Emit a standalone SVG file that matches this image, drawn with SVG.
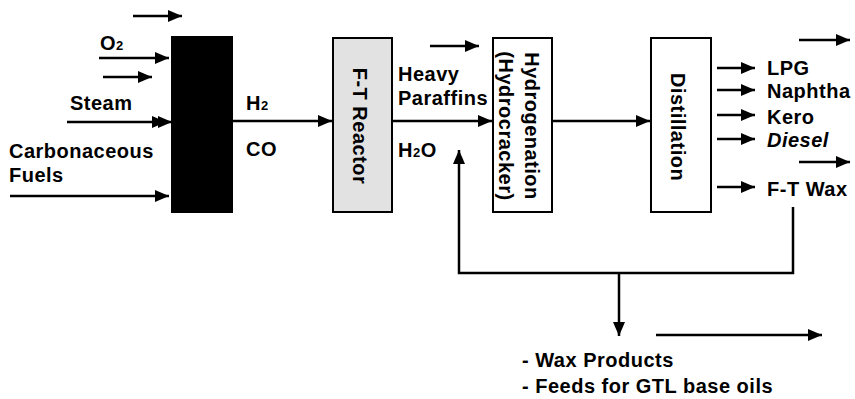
<svg xmlns="http://www.w3.org/2000/svg" width="855" height="399" viewBox="0 0 855 399">
<defs>
<marker id="ah" markerUnits="userSpaceOnUse" markerWidth="16" markerHeight="14" refX="14" refY="7" orient="auto">
<path d="M0,1 L14,7 L0,13 Z" fill="#000"/>
</marker>
<marker id="ah2" markerUnits="userSpaceOnUse" markerWidth="22" markerHeight="14" refX="20" refY="7" orient="auto">
<path d="M0,1 L14,7 L0,13 Z M6,1 L20,7 L6,13 Z" fill="#000"/>
</marker>
</defs>
<style>
.t{font-family:"Liberation Sans",Arial,sans-serif;font-weight:bold;font-size:20px;letter-spacing:0.5px;fill:#000}
.s{font-size:13px}
.c{fill:none;stroke:#000;stroke-width:2.5}
.a{marker-end:url(#ah)}
.box{stroke:#000;stroke-width:2}
</style>
<g id="connectors">
<line class="c a" x1="133" y1="16" x2="182" y2="16"/>
<line class="c a" x1="99" y1="58" x2="169" y2="58"/>
<line class="c a" x1="103" y1="77" x2="152" y2="77"/>
<line class="c" x1="67" y1="122" x2="172" y2="122" marker-end="url(#ah2)"/>
<line class="c a" x1="10" y1="196" x2="169" y2="196"/>
<line class="c a" x1="232" y1="121" x2="332" y2="121"/>
<line class="c a" x1="430" y1="46" x2="479" y2="46"/>
<line class="c a" x1="392" y1="121" x2="492" y2="121"/>
<line class="c a" x1="552" y1="121" x2="650" y2="121"/>
<line class="c a" x1="717" y1="68" x2="755" y2="68"/>
<line class="c a" x1="717" y1="90" x2="755" y2="90"/>
<line class="c a" x1="717" y1="115" x2="755" y2="115"/>
<line class="c a" x1="717" y1="139" x2="755" y2="139"/>
<line class="c a" x1="717" y1="187" x2="755" y2="187"/>
<line class="c a" x1="799" y1="40" x2="850" y2="40"/>
<line class="c a" x1="799" y1="162" x2="850" y2="162"/>
<polyline class="c a" points="793,207 793,273 459,273 459,150"/>
<line class="c a" x1="619" y1="273" x2="619" y2="336"/>
<line class="c a" x1="656" y1="335" x2="822" y2="335"/>
</g>
<g id="gasifier">
<rect class="box" x="172" y="37" width="60" height="175" fill="#000"/>
</g>
<g id="ft-reactor">
<rect class="box" x="333" y="38" width="59" height="174" fill="#e2e2e2"/>
<text class="t" transform="translate(353,126) rotate(90)" text-anchor="middle">F-T Reactor</text>
</g>
<g id="hydrogenation">
<rect class="box" x="493" y="38" width="59" height="174" fill="#fff"/>
<text class="t" transform="translate(525,126) rotate(90)" text-anchor="middle">Hydrogenation</text>
<text class="t" transform="translate(499,126) rotate(90)" text-anchor="middle">(Hydrocracker)</text>
</g>
<g id="distillation">
<rect class="box" x="651" y="38" width="60" height="174" fill="#fff"/>
<text class="t" transform="translate(671,127) rotate(90)" text-anchor="middle">Distillation</text>
</g>
<g id="labels">
<text class="t" x="100" y="50">O<tspan class="s">2</tspan></text>
<text class="t" x="70" y="110">Steam</text>
<text class="t" x="9" y="158">Carbonaceous</text>
<text class="t" x="9" y="182">Fuels</text>
<text class="t" x="246" y="110">H<tspan class="s">2</tspan></text>
<text class="t" x="246" y="156">CO</text>
<text class="t" x="398" y="81">Heavy</text>
<text class="t" x="398" y="105">Paraffins</text>
<text class="t" x="398" y="157">H<tspan class="s">2</tspan>O</text>
<text class="t" x="767" y="75">LPG</text>
<text class="t" x="767" y="98">Naphtha</text>
<text class="t" x="767" y="124">Kero</text>
<text class="t" x="767" y="147" font-style="italic">Diesel</text>
<text class="t" x="767" y="196">F-T Wax</text>
<text class="t" x="522" y="367">- Wax Products</text>
<text class="t" x="522" y="393">- Feeds for GTL base oils</text>
</g>
</svg>
